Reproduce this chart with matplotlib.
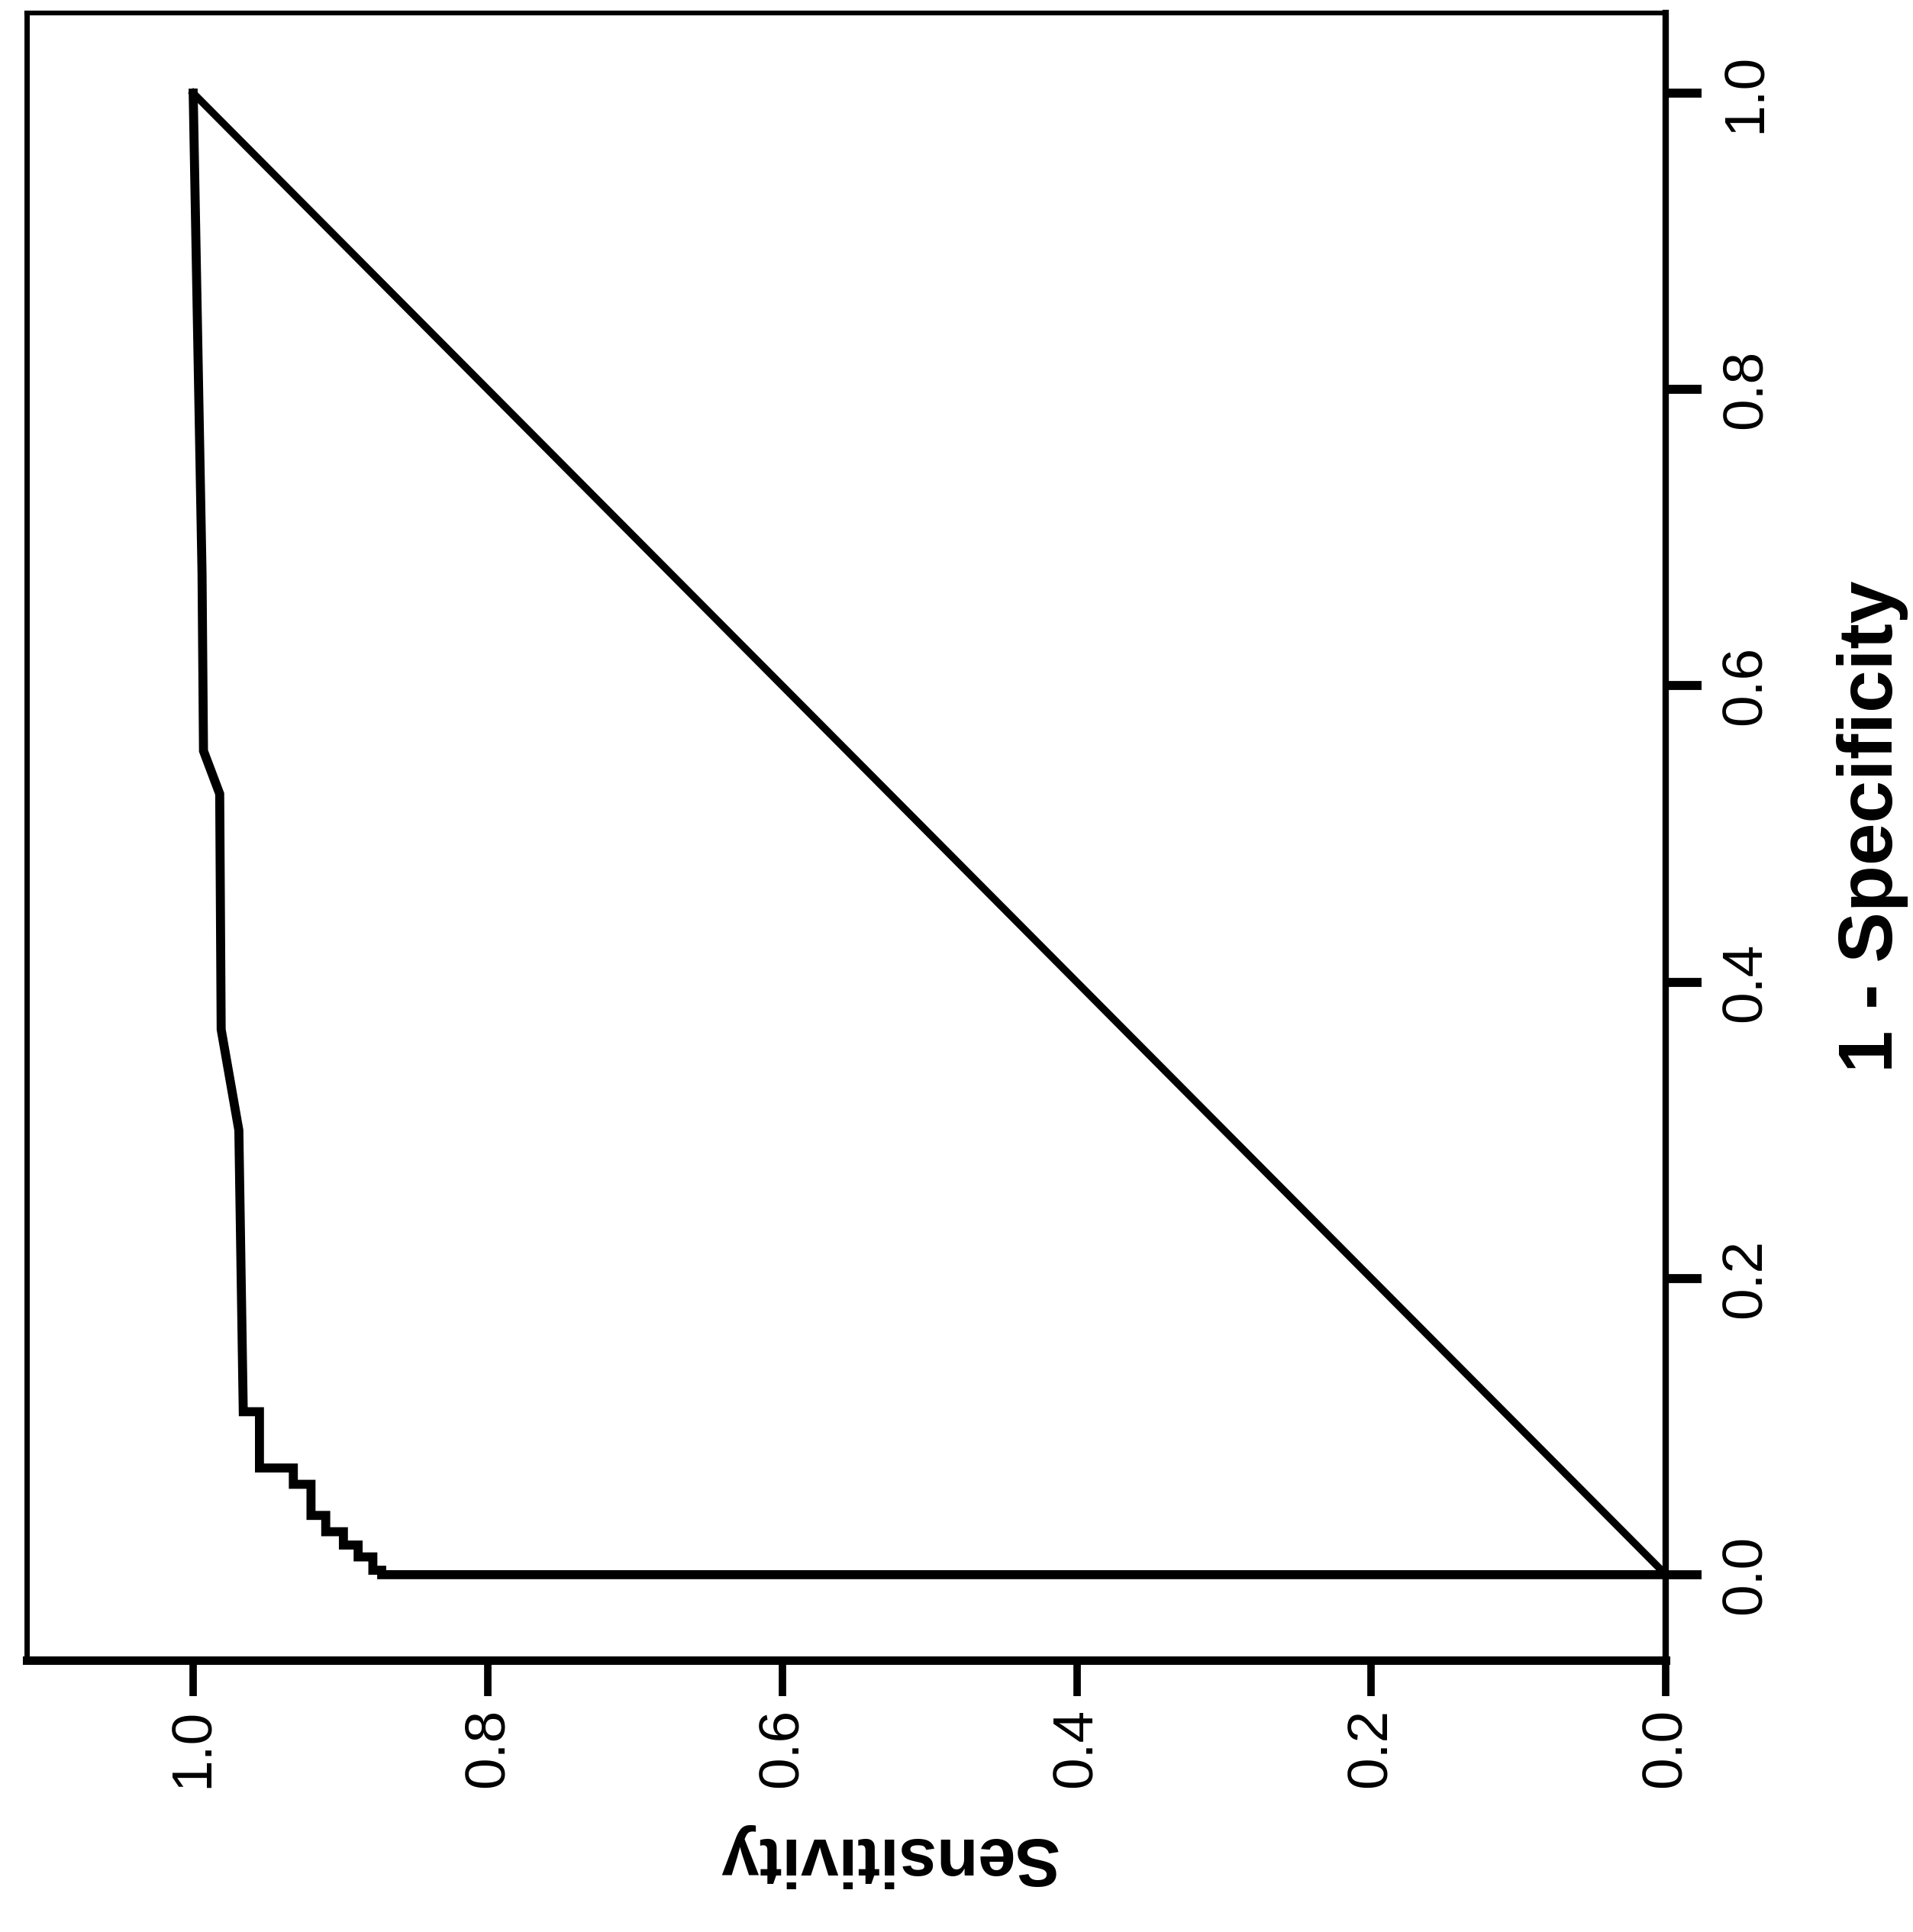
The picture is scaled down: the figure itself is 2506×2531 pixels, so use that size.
import matplotlib.pyplot as plt

fpr = [0.0, 0.0, 0.003, 0.003, 0.012, 0.012, 0.020, 0.020, 0.029, 0.029,
       0.040, 0.040, 0.061, 0.061, 0.072, 0.072, 0.110, 0.110,
       0.300, 0.368, 0.527, 0.556, 0.676, 1.0]
tpr = [0.0, 0.872, 0.872, 0.878, 0.878, 0.888, 0.888, 0.898, 0.898, 0.910,
       0.910, 0.920, 0.920, 0.932, 0.932, 0.955, 0.955, 0.966,
       0.969, 0.981, 0.982, 0.993, 0.994, 1.0]
ref_line = [0.0, 1.0]   # chance diagonal
ticks = [0.0, 0.2, 0.4, 0.6, 0.8, 1.0]
tick_labels = ['0.0', '0.2', '0.4', '0.6', '0.8', '1.0']

plt.rcParams['font.family'] = ['Liberation Sans', 'DejaVu Sans']

fig = plt.figure(figsize=(25.06, 25.31), dpi=100)
ax = fig.add_axes([0.014, 0.1407, 0.8568, 0.8526])

# the page is turned 90 degrees: sensitivity runs right->left, 1-spec bottom->top
ax.plot(tpr, fpr, color='black', lw=8.5, solid_joinstyle='miter')
ax.plot(ref_line, ref_line, color='black', lw=7)

ax.set_xlim(1.113, 0.0)
ax.set_ylim(-0.0577, 1.0541)

ax.set_xticks(ticks, tick_labels, rotation=90)
ax.yaxis.tick_right()
ax.set_yticks(ticks, tick_labels, rotation=90, va='center')
ax.tick_params(axis='x', length=34, width=7, pad=11, labelsize=54)
ax.tick_params(axis='y', length=34, width=8.5, pad=17, labelsize=54)
ax.spines['left'].set_linewidth(5)
ax.spines['top'].set_linewidth(4.5)
ax.spines['right'].set_linewidth(6)
ax.spines['bottom'].set_linewidth(8)

ax.set_xlabel('Sensitivity', rotation=180, fontsize=64, fontweight='bold')
ax.xaxis.set_label_coords(0.525, -0.099)
ax.yaxis.set_label_position('right')
ax.set_ylabel('1 - Specificity', rotation=90, fontsize=72, fontweight='bold')
ax.yaxis.set_label_coords(1.104, 0.506)

fig.savefig('out.png', dpi=100)
